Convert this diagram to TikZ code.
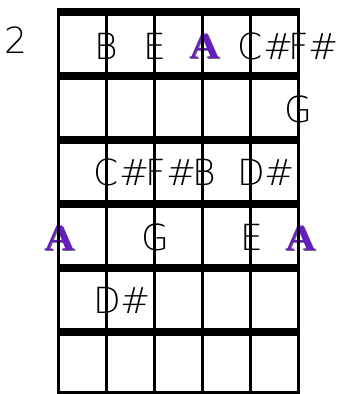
\documentclass[tikz,border=0pt]{standalone}
\usepackage{fontspec}
\setmainfont{DejaVu Sans ExtraLight}
\newfontfamily\serifA{Liberation Serif}
\definecolor{apurple}{RGB}{100,30,190}
\tikzset{
  note/.style={anchor=base,inner sep=0pt,font=\fontsize{36}{36}\selectfont},
  rootA/.style={anchor=base,inner sep=0pt,font=\serifA\bfseries\fontsize{37}{37}\selectfont},
  fret/.style={line width=8pt},
  stringline/.style={line width=2.6pt},
  bottomline/.style={line width=3pt}
}
\newcommand{\purpleA}{\scalebox{1.15}[1]{\rlap{\kern1pt\raisebox{-1pt}{\textcolor{black!55}{A}}}\textcolor{apurple}{A}}}
\begin{document}
\begin{tikzpicture}[x=1pt,y=-1pt]
\useasboundingbox (0,0) rectangle (338,394);
% fret number
\node[note] (fretnum) at (16,53) {2};
% row 1
\node[note] (r1b) at (106.5,59) {B};
\node[note] (r1e) at (154.5,59) {E};
\node[rootA] (r1a) at (205,58.5) {\purpleA};
\node[note] (r1c) at (250.5,59) {C\rlap{\#}};
\node[note] (r1f) at (298.5,59) {F\rlap{\#}};
% row 2
\node[note] (r2g) at (298.5,122) {G};
% row 3
\node[note] (r3c) at (106.5,185) {C\rlap{\#}};
\node[note] (r3f) at (156,185) {F\rlap{\#}};
\node[note] (r3b) at (204,185) {B};
\node[note] (r3d) at (251,185) {D\rlap{\#}};
% row 4
\node[rootA] (r4a1) at (60,250.5) {\purpleA};
\node[note] (r4g) at (155,250) {G};
\node[note] (r4e) at (252,250) {E};
\node[rootA] (r4a2) at (301,250.5) {\purpleA};
% row 5
\node[note] (r5d) at (107,313) {D\rlap{\#}};
% strings
\foreach \x in {58.5,106.5,154.5,202.5,250.5,298.5}
  \draw[stringline] (\x,8) -- (\x,394);
% frets
\foreach \y in {12,76,140,204,268,332}
  \draw[fret] (57.2,\y) -- (299.8,\y);
\draw[bottomline] (57.2,392.5) -- (299.8,392.5);
\end{tikzpicture}
\end{document}
